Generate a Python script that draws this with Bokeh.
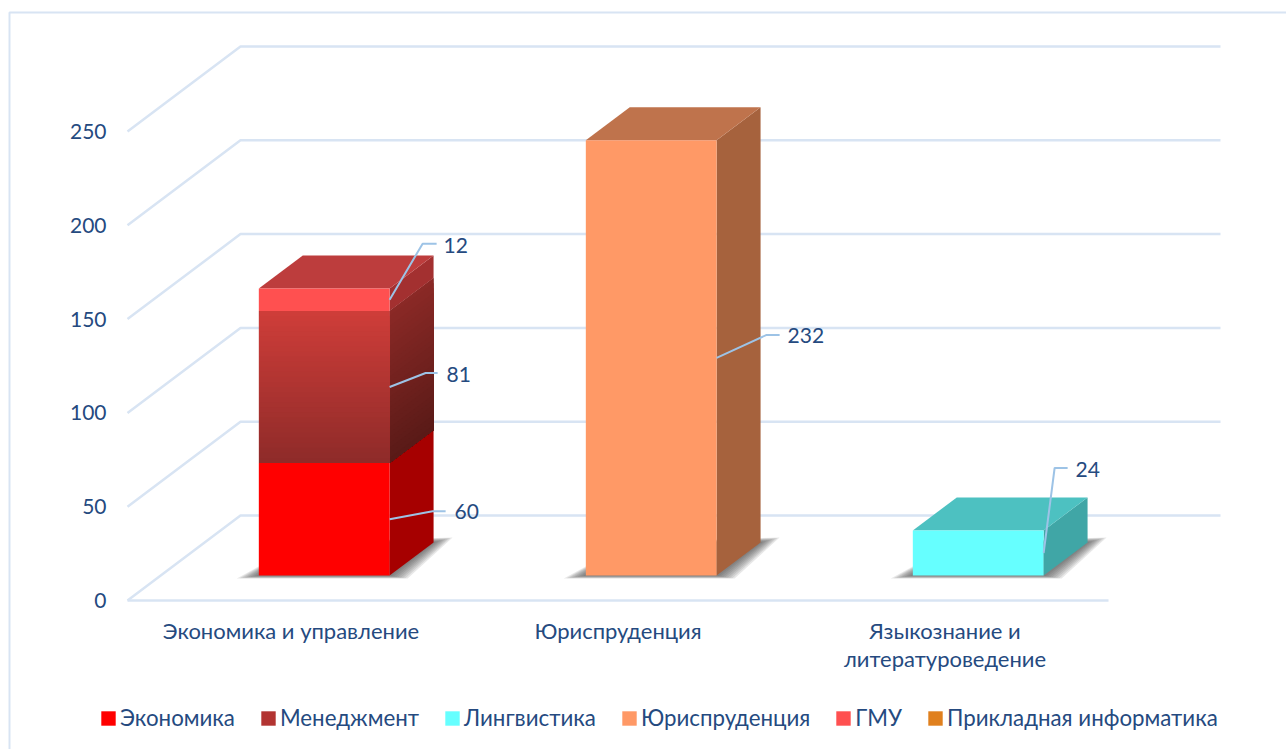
from bokeh.embed import file_html
from bokeh.resources import INLINE
from bokeh.plotting import figure
from bokeh.models import Range1d, LinearAxis, FixedTicker, Legend, LegendItem, BoxAnnotation
from bokeh.core.properties import value

# ---------- data ----------
categories = ["Экономика и управление", "Юриспруденция", "Языкознание и\nлитературоведение"]
y_ticks = [0, 50, 100, 150, 200, 250]
series_names = ["Экономика", "Менеджмент", "Лингвистика", "Юриспруденция", "ГМУ", "Прикладная информатика"]
economics = [60, 0, 0]
management = [81, 0, 0]
linguistics = [0, 0, 24]
law = [0, 232, 0]
gmu = [12, 0, 0]
applied_it = [0, 0, 0]
series_values = [economics, management, linguistics, law, gmu, applied_it]

# ---------- style / layout ----------
FONT = "Lato"
TEXT = "#254A7F"
GRID = "#D8E4F3"
LEADER = "#9DC3E6"
FRONT = ["#FF0000", "#B23432", "#66FFFF", "#FF9966", "#FF5050", "#E0801E"]
SIDE = ["#A60000", "#6F2120", "#40A6A6", "#A6623D", "#A33030", "#A05A10"]
TOP = ["#BF3030", "#8F2B29", "#4DC1C1", "#BF734C", "#BD3D3D", "#C07020"]
GRAD_FRONT = {1: ("#CE3D39", "#8F2B29")}
GRAD_SIDE = {1: ("#8A2926", "#5A1A17")}

PX_X, PX_Y = 327.0, 1.876          # pixels per category / per value unit
DEPTH_X, DEPTH_Y = 113 / PX_X, 85 / PX_Y   # full wall depth in data units
Z0, Z1 = 0.294, 0.683              # depth span of the bars
BAR_W = 0.4
AXIS_X0, AXIS_Y0 = 127, 600
GRID_RIGHT = 1220
W, H = 1286, 749

# leader shape per labelled value: elbow dx, elbow dy, run, text gap, text drop (px)
LEADERS = {
    (0, 0): (43, 8, 13, 9, 0),
    (1, 0): (36, 14, 12, 9, -2),
    (4, 0): (33, 56, 14, 7, -2),
    (3, 1): (50, 23, 13, 8, -1),
    (2, 2): (11, 85, 13, 8, -2),
}


def proj(x, v, z):
    return x + z * DEPTH_X, v + z * DEPTH_Y


def mix(a, b, t):
    ca = [int(a[i:i + 2], 16) for i in (1, 3, 5)]
    cb = [int(b[i:i + 2], 16) for i in (1, 3, 5)]
    return "#%02X%02X%02X" % tuple(round(p + (q - p) * t) for p, q in zip(ca, cb))


x_start = -AXIS_X0 / PX_X
x_end = (W - AXIS_X0) / PX_X
y_start = (AXIS_Y0 - H) / PX_Y
y_end = AXIS_Y0 / PX_Y

p = figure(width=W, height=H, output_backend="svg", toolbar_location=None,
           x_range=Range1d(x_start, x_end), y_range=Range1d(y_start, y_end),
           x_axis_type=None, y_axis_type=None,
           min_border_left=0, min_border_right=0, min_border_top=0, min_border_bottom=0,
           outline_line_color=None, background_fill_color="white", border_fill_color="white")
p.xgrid.visible = False
p.ygrid.visible = False

# axes
yax = LinearAxis(ticker=FixedTicker(ticks=y_ticks), axis_line_color=None,
                 major_tick_line_color=None, minor_tick_line_color=None,
                 major_label_text_color=TEXT, major_label_text_font=FONT,
                 major_label_text_font_size="21px", major_label_standoff=15,
                 fixed_location=0)
p.add_layout(yax, "left")
xax = LinearAxis(ticker=FixedTicker(ticks=[i + 0.5 for i in range(len(categories))]),
                 major_label_overrides={i + 0.5: c for i, c in enumerate(categories)},
                 axis_line_color=None, major_tick_line_color=None, minor_tick_line_color=None,
                 major_label_text_color=TEXT, major_label_text_font=FONT,
                 major_label_text_font_size="22px", major_label_standoff=10,
                 major_label_text_line_height=1.05,
                 fixed_location=0)
p.add_layout(xax, "below")

# outer chart border
p.add_layout(BoxAnnotation(left=9, right=W + 20, top=12, bottom=H + 20,
                           left_units="canvas", right_units="canvas",
                           top_units="canvas", bottom_units="canvas",
                           fill_alpha=0, line_color=GRID, line_alpha=1, line_width=2))

# walls
n = len(categories)
grid_end = (GRID_RIGHT - AXIS_X0) / PX_X
for t in y_ticks:
    bx, by = proj(0, t, 1)
    p.line([0, bx, grid_end], [t, by, by], line_color=GRID, line_width=2.5)
p.line([0, n], [0, 0], line_color=GRID, line_width=2.5)

# shadows
for i in range(n):
    if not sum(s[i] for s in series_values):
        continue
    x0 = i + 0.5 - BAR_W / 2
    x1 = i + 0.5 + BAR_W / 2
    fl, fr = proj(x0, 0, Z0), proj(x1, 0, Z0)
    br, bl = proj(x1, 0, Z1), proj(x0, 0, Z1)
    for s in (1.0, 0.875, 0.75, 0.625, 0.5, 0.375, 0.25, 0.125):
        xs = [fl[0] - 22 * s / PX_X, fr[0] + 18 * s / PX_X, br[0] + 19 * s / PX_X, bl[0]]
        ys = [fl[1] - 3 * s / PX_Y, fr[1] - 3 * s / PX_Y, br[1] + 5 * s / PX_Y, bl[1]]
        p.patch(xs, ys, fill_color="#404040", fill_alpha=0.12, line_color=None)

# bars (stacked faces)
front_renderers = {}
front_geo = {j: ([], []) for j in range(len(series_names))}
draw = []
for i in range(n):
    base = 0
    stack = [j for j in range(len(series_names)) if series_values[j][i] > 0]
    for j in stack:
        v = series_values[j][i]
        draw.append((i, j, base, base + v, j == stack[-1]))
        base += v

STEPS = 30
for i, j, v0, v1, is_top in draw:
    x0 = i + 0.5 - BAR_W / 2
    x1 = i + 0.5 + BAR_W / 2
    a, b = proj(x0, v0, Z0), proj(x1, v0, Z0)
    c, d = proj(x1, v1, Z0), proj(x0, v1, Z0)
    e, f = proj(x1, v0, Z1), proj(x1, v1, Z1)
    g = proj(x0, v1, Z1)
    front_geo[j][0].append([a[0], b[0], c[0], d[0]])
    front_geo[j][1].append([a[1], b[1], c[1], d[1]])
    # side face
    p.patch([b[0], e[0], f[0], c[0]], [b[1], e[1], f[1], c[1]], fill_color=SIDE[j], line_color=None)
    if j in GRAD_SIDE:
        for k in range(STEPS):
            u = v1 - (v1 - v0) * k / STEPS
            cc = mix(GRAD_SIDE[j][0], GRAD_SIDE[j][1], k / (STEPS - 1))
            p.patch([b[0], e[0], e[0], b[0]],
                    [b[1], e[1], proj(x1, u, Z1)[1], proj(x1, u, Z0)[1]],
                    fill_color=cc, line_color=None)
    if is_top:
        p.patch([d[0], c[0], f[0], g[0]], [d[1], c[1], f[1], g[1]], fill_color=TOP[j], line_color=None)

for j, name in enumerate(series_names):
    if not front_geo[j][0]:   # series with no value: zero-area mark, kept for its legend entry
        front_geo[j][0].append([0, 0])
        front_geo[j][1].append([0, 0])
    front_renderers[j] = p.patches(front_geo[j][0], front_geo[j][1], fill_color=FRONT[j], line_color=None)

for i, j, v0, v1, is_top in draw:
    if j in GRAD_FRONT:
        x0 = i + 0.5 - BAR_W / 2
        x1 = i + 0.5 + BAR_W / 2
        for k in range(STEPS):
            u = v1 - (v1 - v0) * k / STEPS
            cc = mix(GRAD_FRONT[j][0], GRAD_FRONT[j][1], k / (STEPS - 1))
            ax, ay = proj(x0, v0, Z0)
            bx, _ = proj(x1, v0, Z0)
            _, ty = proj(x0, u, Z0)
            ax += 0.5 / PX_X    # keeps stacked strips from thickening the left edge
            p.patch([ax, bx, bx, ax], [ay, ay, ty, ty], fill_color=cc, line_color=None)

# data labels with leaders
for i, j, v0, v1, is_top in draw:
    sx, sy = proj(i + 0.5 + BAR_W / 2, (v0 + v1) / 2, Z0)
    ex, ey, run, gap, drop = LEADERS[(j, i)]
    lx = [sx, sx + ex / PX_X, sx + (ex + run) / PX_X]
    ly = [sy, sy + ey / PX_Y, sy + ey / PX_Y]
    p.line(lx, ly, line_color=LEADER, line_width=2)
    p.text([lx[2] + gap / PX_X], [ly[2] + drop / PX_Y], text=[str(v1 - v0)],
           text_font=value(FONT), text_font_size="21px", text_color=TEXT,
           text_baseline="middle", text_align="left")

# legend
items = [LegendItem(label=name, renderers=[front_renderers[j]]) for j, name in enumerate(series_names)]
legend = Legend(items=items, orientation="horizontal", location=(99, H - 731),
                glyph_width=18, glyph_height=18, label_standoff=3, spacing=24,
                padding=0, margin=0, border_line_color=None, background_fill_alpha=0,
                label_text_font=FONT, label_text_font_size="22.3px", label_text_color=TEXT,
                label_height=20)
p.add_layout(legend, "center")

open("out.html", "w").write(file_html(p, INLINE))
